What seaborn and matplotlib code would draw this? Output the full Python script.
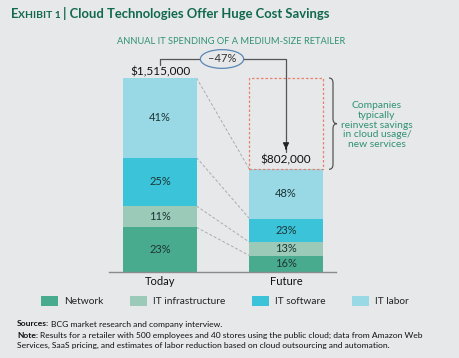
import numpy as np
import pandas as pd
import matplotlib
matplotlib.use("Agg")
import matplotlib.pyplot as plt
import seaborn as sns
from matplotlib.patches import Patch, Rectangle, PathPatch
from matplotlib.path import Path

# data
periods = ["Today", "Future"]
totals = [1515000, 802000]
categories = ["Network", "IT infrastructure", "IT software", "IT labor"]
shares_today = [23, 11, 25, 41]
shares_future = [16, 13, 23, 48]
total_labels = ["$1,515,000", "$802,000"]
change_label = "\u201347%"
colors = ["#48ab8e", "#9ccab8", "#3bc4d9", "#99d9e6"]

BG = "#e7e8ea"
GREEN = "#10694c"
LIGHT_GREEN = "#2f9270"
TXT = "#1d3535"

sns.set_theme(style="white")
plt.rcParams["font.family"] = ["Lato", "DejaVu Sans"]

W, H = 460, 358
fig = plt.figure(figsize=(W / 100, H / 100), dpi=100, facecolor=BG)

# axes placed in pixel coordinates of the reference
x_left, x_right, y_bot, y_top = 109, 336, 272, 50
ax = fig.add_axes([x_left / W, 1 - y_bot / H, (x_right - x_left) / W, (y_bot - y_top) / H])
ax.set_facecolor(BG)
px_per_unit = 126.0
px_per_dollar = 194.0 / totals[0]

def py(v):
    # pixel row -> data value
    return (y_bot - v) / px_per_dollar

shares = np.array([shares_today, shares_future], dtype=float)
amounts = shares / 100.0 * np.array(totals)[:, None]
cum = np.cumsum(amounts, axis=1)

bar_w = 0.58
# draw cumulative layers from top to bottom
for i in range(len(categories) - 1, -1, -1):
    df = pd.DataFrame({"period": periods, "value": cum[:, i]})
    sns.barplot(data=df, x="period", y="value", color=colors[i], width=bar_w,
                saturation=1, ax=ax, linewidth=0, zorder=2)

ax.set_xlim(-(160 - x_left) / px_per_unit, (x_right - 160) / px_per_unit)
ax.set_ylim(0, (y_bot - y_top) / px_per_dollar)

# segment labels
for j in range(len(periods)):
    for i in range(len(categories)):
        mid = cum[j, i] - amounts[j, i] / 2
        ax.text(j, mid, f"{int(shares[j, i])}%", ha="center", va="center",
                fontsize=8, color=TXT, zorder=4)

# dashed connectors between segment tops
for i in range(len(categories)):
    ax.plot([bar_w / 2, 1 - bar_w / 2], [cum[0, i], cum[1, i]], color="#a9acae",
            lw=0.7, ls=(0, (3, 2)), zorder=1)

# red dotted box of savings
ax.add_patch(Rectangle((1 - bar_w / 2, totals[1]), bar_w, totals[0] - totals[1],
                       fill=False, edgecolor="#e8806e", lw=0.9, ls=(0, (2, 1.6)), zorder=3))

# total labels
ax.text(0, py(72), total_labels[0], ha="center", va="center", fontsize=8.5, color="#111111")
ax.text(1, py(160), total_labels[1], ha="center", va="center", fontsize=8.5, color="#111111")

# connector arrow
ax.plot([0, 0, 1, 1], [py(65), py(59), py(59), py(152)], color="#555555", lw=0.9,
        clip_on=False, zorder=3)
ax.annotate("", xy=(1, py(152)), xytext=(1, py(146)),
            arrowprops=dict(arrowstyle="-|>", color="#222222", lw=0.9, mutation_scale=9),
            annotation_clip=False)
ax.text((222 - 160) / px_per_unit, py(59), change_label, ha="center", va="center",
        fontsize=8, color="#333333", zorder=5,
        bbox=dict(boxstyle="ellipse,pad=0.1", fc=BG, ec="#5b86b5", lw=0.9))

# curly brace
bx = (329 - 160) / px_per_unit
bw = 8 / px_per_unit
yt, yb = totals[0], totals[1]
ym = (yt + yb) / 2
r = 5 / px_per_dollar
verts = [(bx, yt), (bx + bw / 2, yt), (bx + bw / 2, yt - r),
         (bx + bw / 2, ym + r), (bx + bw / 2, ym), (bx + bw, ym),
         (bx + bw / 2, ym), (bx + bw / 2, ym - r),
         (bx + bw / 2, yb + r), (bx + bw / 2, yb), (bx, yb)]
codes = [Path.MOVETO, Path.CURVE3, Path.CURVE3, Path.LINETO, Path.CURVE3, Path.CURVE3,
         Path.CURVE3, Path.CURVE3, Path.LINETO, Path.CURVE3, Path.CURVE3]
ax.add_patch(PathPatch(Path(verts, codes), fill=False, edgecolor="#555555", lw=0.9,
                       clip_on=False))
ax.text((377 - 160) / px_per_unit, py(125),
        "Companies\ntypically\nreinvest savings\nin cloud usage/\nnew services",
        ha="center", va="center", fontsize=7.4, color=LIGHT_GREEN, linespacing=1.12,
        clip_on=False)

# axes cosmetics
sns.despine(ax=ax, left=True, top=True, right=True)
ax.spines["bottom"].set_color("#8a8c8e")
ax.spines["bottom"].set_linewidth(1.0)
ax.set_yticks([])
ax.set_xlabel("")
ax.set_ylabel("")
ax.tick_params(axis="x", length=0, pad=3, labelsize=8, labelcolor="#111111")

# titles
renderer = fig.canvas.get_renderer()
t1 = fig.text(11 / W, 1 - 18 / H, "E", fontsize=9.4, fontweight="bold", color=GREEN,
              va="baseline")
x = t1.get_window_extent(renderer).x1 / W
t2 = fig.text(x, 1 - 18 / H, "XHIBIT 1", fontsize=7.5, fontweight="bold", color=GREEN,
              va="baseline")
x = t2.get_window_extent(renderer).x1 / W
fig.text(x + 2 / W, 1 - 18 / H, "| Cloud Technologies Offer Huge Cost Savings",
         fontsize=9.4, fontweight="bold", color=GREEN, va="baseline")

fig.text(231 / W, 1 - 42 / H, "ANNUAL IT SPENDING OF A MEDIUM-SIZE RETAILER",
         ha="center", va="center", fontsize=6.7, color=LIGHT_GREEN)

# legend
handles = [Patch(facecolor=c, edgecolor="none", label=l) for c, l in zip(colors, categories)]
fig.legend(handles=handles, loc="center", bbox_to_anchor=(225 / W, 1 - 301 / H), ncol=4,
           frameon=False, fontsize=7.3, handlelength=1.7, handleheight=1.2,
           columnspacing=2.6, handletextpad=0.6, labelcolor="#222222")

# sources
fs = 6.1
y0 = 1 - 324 / H
s1 = fig.text(17 / W, y0, "Sources:", fontsize=fs, fontweight="bold", color="#111111",
              va="center")
fig.text(s1.get_window_extent(renderer).x1 / W + 2 / W, y0,
         "BCG market research and company interview.", fontsize=fs, color="#111111",
         va="center")
y1 = 1 - 335 / H
s2 = fig.text(17 / W, y1, "Note:", fontsize=fs, fontweight="bold", color="#111111",
              va="center")
fig.text(s2.get_window_extent(renderer).x1 / W + 2 / W, y1,
         "Results for a retailer with 500 employees and 40 stores using the public cloud; data from Amazon Web",
         fontsize=fs, color="#111111", va="center")
fig.text(17 / W, 1 - 345 / H,
         "Services, SaaS pricing, and estimates of labor reduction based on cloud outsourcing and automation.",
         fontsize=fs, color="#111111", va="center")

fig.savefig("out.png", dpi=100, facecolor=BG)
